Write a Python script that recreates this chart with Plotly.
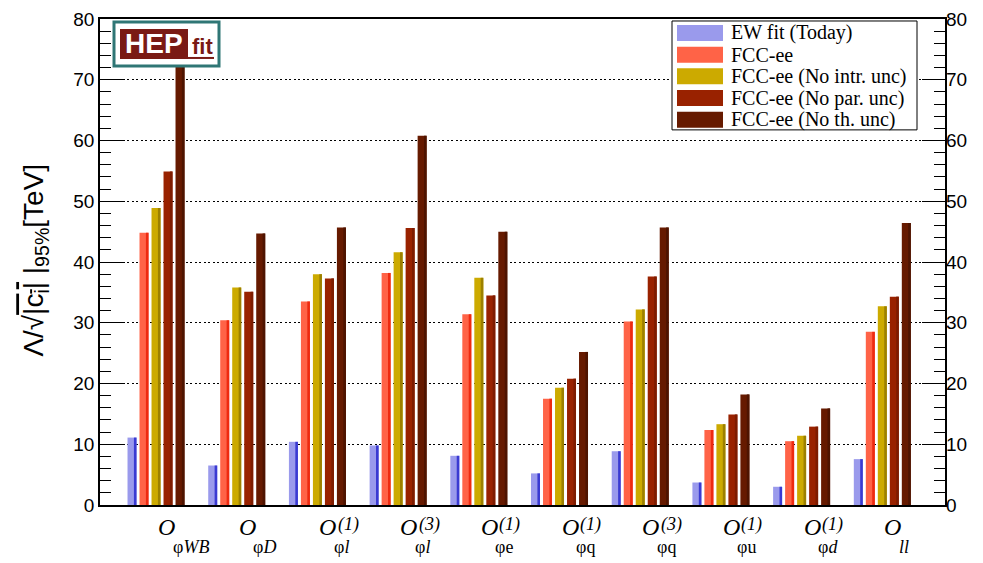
import plotly.graph_objects as go

# ---------------- data ----------------
operators_sub = ["φ<i>WB</i>", "φ<i>D</i>", "φ<i>l</i>", "φ<i>l</i>", "φe", "φq", "φq", "φu", "φ<i>d</i>", "<i>ll</i>"]
operators_sup = ["", "", "(1)", "(3)", "(1)", "(1)", "(3)", "(1)", "(1)", ""]

series_names = ["EW fit (Today)", "FCC-ee", "FCC-ee (No intr. unc)", "FCC-ee (No par. unc)", "FCC-ee (No th. unc)"]
ew_today   = [11.1, 6.5, 10.4, 9.8, 8.1, 5.2, 8.85, 3.7, 3.0, 7.55]
fcc_ee     = [44.8, 30.4, 33.5, 38.2, 31.4, 17.5, 30.2, 12.35, 10.5, 28.5]
no_intr    = [48.9, 35.8, 38.0, 41.6, 37.4, 19.3, 32.2, 13.3, 11.4, 32.7]
no_par     = [54.9, 35.1, 37.3, 45.6, 34.5, 20.8, 37.6, 14.9, 12.9, 34.3]
no_th      = [74.0, 44.7, 45.7, 60.8, 45.0, 25.2, 45.7, 18.2, 15.9, 46.4]
y_ticks    = [0, 10, 20, 30, 40, 50, 60, 70, 80]

series_values = [ew_today, fcc_ee, no_intr, no_par, no_th]
main_colors  = ["#9A9AEC", "#FF6347", "#CCAA00", "#992200", "#661A00"]
strip_colors = ["#3A3AD2", "#EE2A10", "#9C8000", "#7E1C00", "#4E1400"]

x_idx = list(range(len(operators_sub)))

# The page body has an 8px default margin: the figure is drawn from (8, 8)
W, H = 975, 555
PLOT_L, PLOT_R, PLOT_T, PLOT_B = 100, 945, 19, 505.5   # window pixels of the frame
OFF = 8
m_l = PLOT_L - OFF
m_t = PLOT_T - OFF
m_r = (OFF + W) - PLOT_R
m_b = (OFF + H) - PLOT_B


def px_x(p):
    return (p - PLOT_L) / (PLOT_R - PLOT_L)


def px_y(p):
    return (PLOT_B - p) / (PLOT_B - PLOT_T)


# ---------------- figure ----------------
fig = go.Figure()

slot = 12 / 80.7
bar_w = 9 / 80.7
strip_w = 2.6 / 80.7
first_off = -28 / 80.7

for j, (name, vals) in enumerate(zip(series_names, series_values)):
    off = first_off + j * slot
    fig.add_trace(go.Bar(
        x=x_idx, y=vals, name=name, width=bar_w, offset=off,
        marker=dict(color=main_colors[j], line=dict(width=0)),
        showlegend=False,
    ))
    fig.add_trace(go.Bar(
        x=x_idx, y=vals, width=strip_w, offset=off + bar_w - strip_w,
        marker=dict(color=strip_colors[j], line=dict(width=0)),
        showlegend=False, hoverinfo="skip",
    ))

# dummy trace for the right axis
fig.add_trace(go.Scatter(x=[None], y=[None], yaxis="y2", showlegend=False, hoverinfo="skip"))

tick_font = dict(family="Liberation Sans, Arial, sans-serif", size=19, color="black")
Y_RANGE = [-0.0001, 80.001]

fig.update_layout(
    width=W, height=H,
    margin=dict(l=m_l, r=m_r, t=m_t, b=m_b, pad=0),
    paper_bgcolor="white", plot_bgcolor="white",
    barmode="overlay",
    showlegend=False,
    xaxis=dict(
        range=[-0.688, 9.783], showticklabels=False, ticks="", showgrid=False, automargin=False,
        zeroline=False, showline=True, linecolor="black", linewidth=1.5, mirror=True,
    ),
    yaxis=dict(
        range=Y_RANGE, tickvals=y_ticks, ticks="inside", ticklen=23, tickcolor="black",
        tickwidth=1, minor=dict(dtick=2, tick0=0, ticks="inside", ticklen=11, tickcolor="black", showgrid=False),
        showgrid=True, gridcolor="black", griddash="2px,2.5px", gridwidth=1.3, automargin=False,
        zeroline=False, showline=True, linecolor="black", linewidth=1.5, mirror=True,
        tickfont=tick_font, ticklabeloverflow="allow",
    ),
    yaxis2=dict(
        range=Y_RANGE, tickvals=y_ticks, overlaying="y", side="right", anchor="x",
        ticks="inside", ticklen=23, tickcolor="black", tickwidth=1, automargin=False,
        minor=dict(dtick=2, tick0=0, ticks="inside", ticklen=11, tickcolor="black", showgrid=False),
        showgrid=False, zeroline=False, showline=False, tickfont=tick_font,
        ticklabeloverflow="allow",
    ),
)

# ---------------- x category labels ----------------
label_font_O = dict(family="Liberation Serif, Times New Roman, serif", size=24, color="black")
label_font_sup = dict(family="Liberation Serif, Times New Roman, serif", size=18, color="black")
label_font_sub = dict(family="Liberation Serif, Times New Roman, serif", size=18, color="black")
for i, (sub, sup) in enumerate(zip(operators_sub, operators_sup)):
    fig.add_annotation(x=i, y=0, xref="x", yref="paper", text="<i>O</i>", showarrow=False,
                       xanchor="center", yanchor="middle", xshift=11, yshift=-22, font=label_font_O)
    if sup:
        fig.add_annotation(x=i, y=0, xref="x", yref="paper", text="<i>" + sup + "</i>", showarrow=False,
                           xanchor="left", yanchor="middle", xshift=19, yshift=-19, font=label_font_sup)
    fig.add_annotation(x=i, y=0, xref="x", yref="paper", text=sub, showarrow=False,
                       xanchor="left", yanchor="middle", xshift=15, yshift=-42, font=label_font_sub)

# ---------------- y title ----------------
fig.add_annotation(
    x=px_x(36), y=px_y(261), xref="paper", yref="paper", showarrow=False, textangle=-90,
    xanchor="center", yanchor="middle",
    text="Λ/√<span style='text-decoration:overline'>|c<sub>i</sub>|</span> |<sub>95%</sub>[TeV]",
    font=dict(family="Liberation Sans, Arial, sans-serif", size=28, color="black"),
)

# ---------------- legend (drawn box) ----------------
fig.add_shape(type="rect", xref="paper", yref="paper", layer="above",
              x0=px_x(672), x1=px_x(917), y0=px_y(130), y1=px_y(21),
              fillcolor="white", line=dict(color="black", width=1))
for j, name in enumerate(series_names):
    yc = 33 + j * 21.7
    fig.add_shape(type="rect", xref="paper", yref="paper", layer="above",
                  x0=px_x(677), x1=px_x(723), y0=px_y(yc + 8), y1=px_y(yc - 8),
                  fillcolor=main_colors[j], line=dict(width=0))
    fig.add_annotation(x=px_x(729), y=px_y(yc), xref="paper", yref="paper", showarrow=False,
                       text=name, xanchor="left", yanchor="middle",
                       font=dict(family="Liberation Serif, Times New Roman, serif", size=20, color="black"))

# ---------------- HEPfit logo ----------------
fig.add_shape(type="rect", xref="paper", yref="paper", layer="above",
              x0=px_x(114), x1=px_x(219), y0=px_y(66), y1=px_y(22),
              fillcolor="white", line=dict(color="#2F7675", width=3))
fig.add_shape(type="rect", xref="paper", yref="paper", layer="above",
              x0=px_x(120), x1=px_x(188), y0=px_y(59), y1=px_y(29),
              fillcolor="#7A1A14", line=dict(width=0))
fig.add_shape(type="rect", xref="paper", yref="paper", layer="above",
              x0=px_x(188), x1=px_x(214), y0=px_y(59), y1=px_y(57),
              fillcolor="#7A1A14", line=dict(width=0))
fig.add_annotation(x=px_x(154), y=px_y(44), xref="paper", yref="paper", showarrow=False,
                   text="<b>HEP</b>", xanchor="center", yanchor="middle",
                   font=dict(family="Liberation Sans, Arial, sans-serif", size=28, color="white"))
fig.add_annotation(x=px_x(202), y=px_y(47), xref="paper", yref="paper", showarrow=False,
                   text="<b>fit</b>", xanchor="center", yanchor="middle",
                   font=dict(family="Liberation Sans, Arial, sans-serif", size=22, color="#7A1A14"))

fig.write_html("out.html")
